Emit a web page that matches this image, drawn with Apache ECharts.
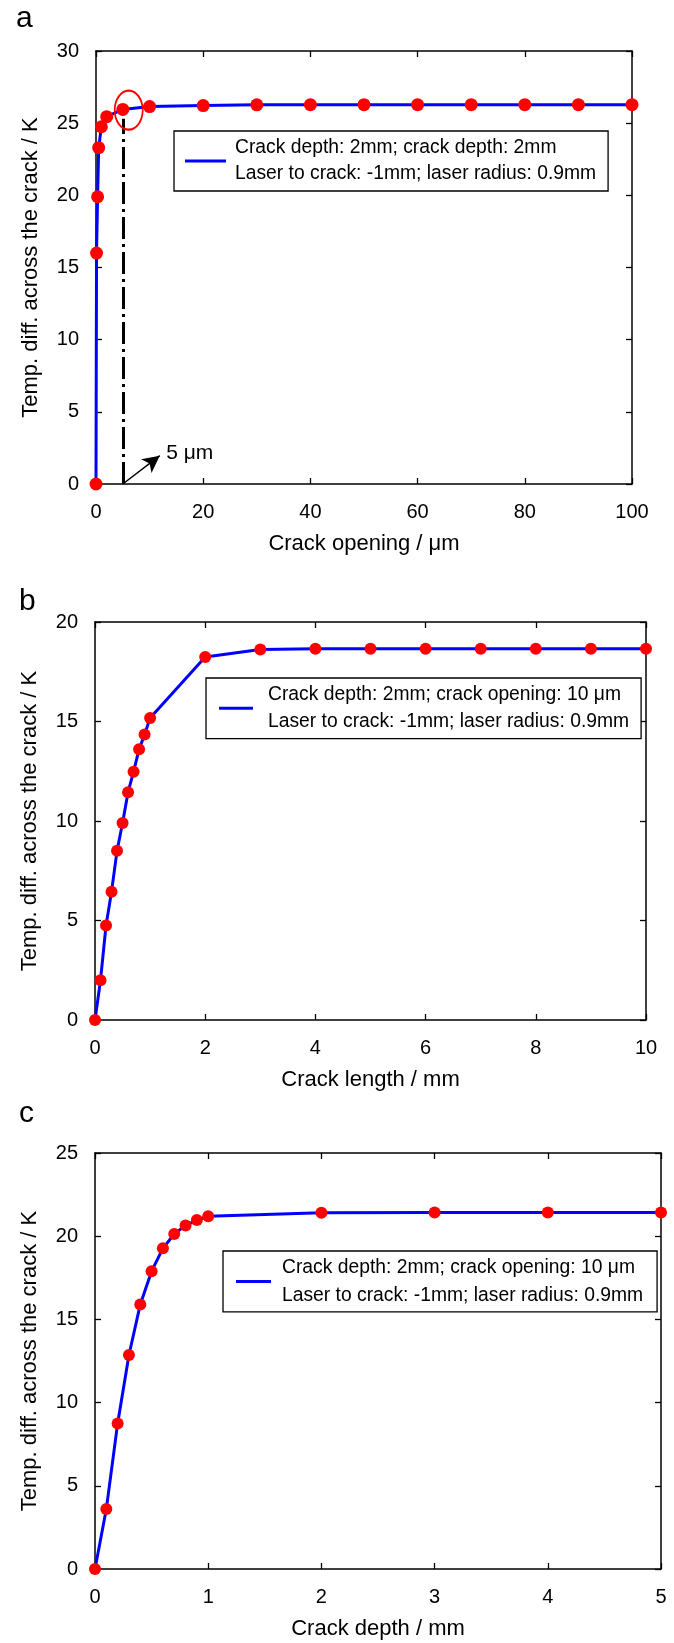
<!DOCTYPE html>
<html>
<head>
<meta charset="utf-8">
<script src="https://cdn.jsdelivr.net/npm/echarts@6/dist/echarts.min.js"></script>
<style>
html,body{margin:0;padding:0;background:#fff;}
#chart{width:674px;height:1643px;}
</style>
</head>
<body>
<div id="chart"></div>
<script>
// ---------- data ----------
const nameA = 'Crack depth: 2mm; crack depth: 2mm\nLaser to crack: -1mm; laser radius: 0.9mm';
const nameBC = 'Crack depth: 2mm; crack opening: 10 \u03bcm\nLaser to crack: -1mm; laser radius: 0.9mm';

const aX = [0, 0.1, 0.3, 0.5, 1, 2, 5, 10, 20, 30, 40, 50, 60, 70, 80, 90, 100];
const aY = [0, 16.0, 19.9, 23.3, 24.75, 25.45, 25.95, 26.15, 26.22, 26.27, 26.28, 26.28, 26.28, 26.28, 26.28, 26.28, 26.28];

const bX = [0, 0.1, 0.2, 0.3, 0.4, 0.5, 0.6, 0.7, 0.8, 0.9, 1, 2, 3, 4, 5, 6, 7, 8, 9, 10];
const bY = [0, 2.0, 4.75, 6.45, 8.5, 9.9, 11.45, 12.48, 13.6, 14.35, 15.18, 18.24, 18.62, 18.66, 18.66, 18.66, 18.66, 18.66, 18.66, 18.66];

const cX = [0, 0.1, 0.2, 0.3, 0.4, 0.5, 0.6, 0.7, 0.8, 0.9, 1, 2, 3, 4, 5];
const cY = [0, 3.6, 8.75, 12.86, 15.9, 17.9, 19.27, 20.13, 20.65, 20.97, 21.2, 21.41, 21.42, 21.42, 21.42];

const xTitles = ['Crack opening / \u03bcm', 'Crack length / mm', 'Crack depth / mm'];
const yTitle = 'Temp. diff. across the crack / K';
const panelLetters = ['a', 'b', 'c'];
const annotationText = '5 \u03bcm';

// ---------- helpers ----------
const FONT = '"Liberation Sans", Arial, sans-serif';
const black = '#000';

function xAxes(g, min, max, interval, name) {
  const base = {
    type: 'value', gridIndex: g, min: min, max: max, interval: interval,
    splitLine: {show: false},
    axisLine: {show: true, onZero: false, lineStyle: {color: black, width: 1.5}},
    axisTick: {show: true, inside: true, length: 6, lineStyle: {color: black, width: 1.3}}
  };
  return [
    Object.assign({}, base, {
      position: 'bottom', name: name, nameLocation: 'middle', nameGap: 49,
      nameTextStyle: {fontSize: 22, color: black, fontFamily: FONT},
      axisLabel: {fontSize: 20, color: black, margin: 18, fontFamily: FONT}
    }),
    Object.assign({}, base, {position: 'top', axisLabel: {show: false}})
  ];
}
function yAxes(g, min, max, interval, name) {
  const base = {
    type: 'value', gridIndex: g, min: min, max: max, interval: interval,
    splitLine: {show: false},
    axisLine: {show: true, onZero: false, lineStyle: {color: black, width: 1.5}},
    axisTick: {show: true, inside: true, length: 6, lineStyle: {color: black, width: 1.3}}
  };
  return [
    Object.assign({}, base, {
      position: 'left', name: name, nameLocation: 'middle', nameGap: 54,
      nameTextStyle: {fontSize: 22, color: black, fontFamily: FONT},
      axisLabel: {fontSize: 20, color: black, margin: 17, fontFamily: FONT}
    }),
    Object.assign({}, base, {position: 'right', axisLabel: {show: false}})
  ];
}
function pairs(xs, ys) { return xs.map((x, i) => [x, ys[i]]); }
function lineSeries(name, idx, xs, ys, size) {
  return {
    type: 'line', name: name, xAxisIndex: idx * 2, yAxisIndex: idx * 2,
    data: pairs(xs, ys), symbol: 'circle', symbolSize: size, showSymbol: true,
    itemStyle: {color: '#ff0000'}, lineStyle: {color: '#0000ff', width: 3},
    clip: false, z: 3, silent: true
  };
}
function legendFor(name, left, top, iconW, textPadLeft, lineH, pad) {
  return {
    data: [name], left: left, top: top, orient: 'vertical', selectedMode: false,
    icon: 'rect', itemWidth: iconW, itemHeight: 3,
    itemStyle: {color: '#0000ff', borderWidth: 0},
    textStyle: {fontSize: 19.3, lineHeight: lineH, color: black, fontFamily: FONT, padding: [0, 0, 0, textPadLeft]},
    padding: pad, borderColor: black, borderWidth: 1.3, backgroundColor: '#fff'
  };
}

const sA = lineSeries(nameA, 0, aX, aY, 13);
sA.markLine = {
  silent: true, symbol: ['none', 'none'], label: {show: false},
  data: [
    [{coord: [5, 0], lineStyle: {color: black, width: 3, type: [22, 5, 3, 5]}}, {coord: [5, 25.3]}],
    [{coord: [5, 0], lineStyle: {color: black, width: 1.5, type: 'solid'}},
     {coord: [11.9, 1.96], symbol: 'arrow', symbolSize: [13, 17]}]
  ]
};
sA.markPoint = {
  silent: true,
  data: [
    {coord: [6.1, 25.9], symbol: 'circle', symbolSize: [28, 39],
     itemStyle: {color: 'rgba(0,0,0,0)', borderColor: '#ff0000', borderWidth: 2},
     label: {show: false}},
    {coord: [13.1, 2.1], symbol: 'circle', symbolSize: 0,
     itemStyle: {color: 'rgba(0,0,0,0)'},
     label: {show: true, position: 'right', distance: 0, formatter: annotationText,
             fontSize: 21, color: black, fontFamily: FONT}}
  ]
};

const option = {
  animation: false,
  backgroundColor: '#fff',
  grid: [
    {left: 96, top: 51, width: 536, height: 433},
    {left: 95, top: 622, width: 551, height: 398},
    {left: 95, top: 1153, width: 566, height: 416}
  ],
  xAxis: [].concat(
    xAxes(0, 0, 100, 20, xTitles[0]),
    xAxes(1, 0, 10, 2, xTitles[1]),
    xAxes(2, 0, 5, 1, xTitles[2])
  ),
  yAxis: [].concat(
    yAxes(0, 0, 30, 5, yTitle),
    yAxes(1, 0, 20, 5, yTitle),
    yAxes(2, 0, 25, 5, yTitle)
  ),
  legend: [
    legendFor(nameA, 174, 131, 41, 4, 26, [4, 12, 4, 11]),
    legendFor(nameBC, 206, 678, 34, 10, 27.3, [3, 12, 3, 13]),
    legendFor(nameBC, 223, 1251, 35, 6, 28.4, [2, 14, 2, 13])
  ],
  series: [
    sA,
    lineSeries(nameBC, 1, bX, bY, 12),
    lineSeries(nameBC, 2, cX, cY, 12)
  ],
  graphic: [
    {type: 'text', x: 16, y: 19, style: {text: panelLetters[0], fontSize: 30, fontFamily: FONT, fill: black, verticalAlign: 'middle'}},
    {type: 'text', x: 19, y: 602, style: {text: panelLetters[1], fontSize: 30, fontFamily: FONT, fill: black, verticalAlign: 'middle'}},
    {type: 'text', x: 19, y: 1114, style: {text: panelLetters[2], fontSize: 30, fontFamily: FONT, fill: black, verticalAlign: 'middle'}}
  ]
};

const chart = echarts.init(document.getElementById('chart'), null, {renderer: 'canvas'});
chart.setOption(option);
</script>
</body>
</html>
